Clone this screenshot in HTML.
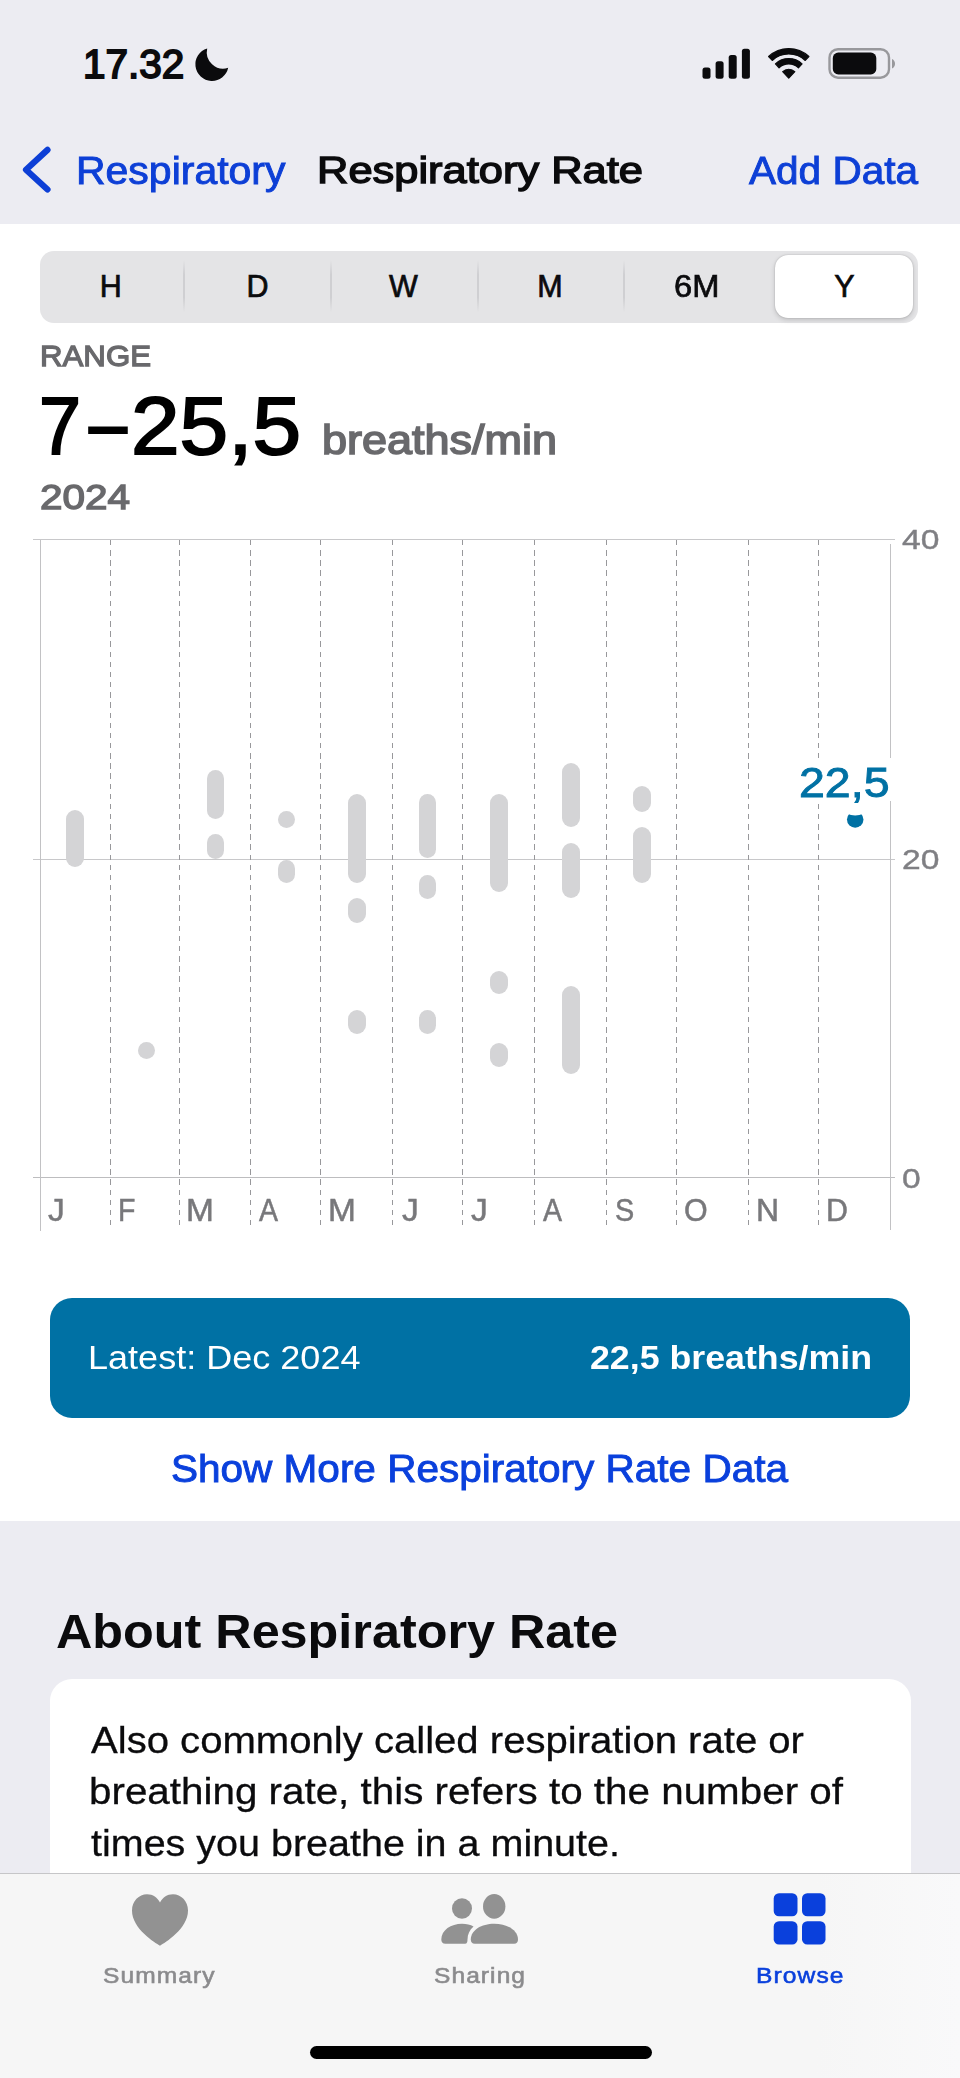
<!DOCTYPE html>
<html lang="en">
<head>
<meta charset="utf-8">
<title>Respiratory Rate</title>
<style>
html,body{margin:0;padding:0;}
body{width:960px;height:2078px;position:relative;overflow:hidden;background:#ececf2;font-family:"Liberation Sans",sans-serif;color:#000;}
.abs{position:absolute;}
.t{position:absolute;white-space:nowrap;line-height:1;transform-origin:0 0;}
#white{position:absolute;left:0;top:223.5px;width:960px;height:1297px;background:#fff;}
#gray{position:absolute;left:0;top:1520.5px;width:960px;height:558px;background:#ececf2;}
#seg{position:absolute;left:40px;top:250.5px;width:878px;height:72px;border-radius:14px;background:#e4e4e6;}
#segsel{position:absolute;left:774.6px;top:254.8px;width:138.8px;height:63.5px;border-radius:13px;background:#fff;box-shadow:0 2px 5px rgba(0,0,0,.16),0 0 1.5px rgba(0,0,0,.25);}
.sep{position:absolute;top:260px;width:2px;height:52px;background:linear-gradient(to bottom,rgba(205,205,208,0),#cfcfd2 28%,#cfcfd2 72%,rgba(205,205,208,0));}
.vl{position:absolute;top:540px;height:690px;width:1px;background:repeating-linear-gradient(to bottom,#98989b 0,#98989b 5.4px,transparent 5.4px,transparent 10.15px);}
.vs{position:absolute;width:1px;background:#c2c2c4;}
.hl{position:absolute;left:33px;width:862px;height:1px;background:#c8c8ca;}
.bar{position:absolute;width:17.5px;border-radius:9px;background:#d4d4d6;filter:blur(.7px);}
#latest{position:absolute;left:49.5px;top:1297.5px;width:860.5px;height:120px;border-radius:22px;background:#0071a4;}
#card{position:absolute;left:50px;top:1678.5px;width:860.5px;height:260px;border-radius:22px;background:#fff;}
#tab{position:absolute;left:0;top:1872.5px;width:960px;height:206px;background:linear-gradient(to right,#f6f6f6 0,#f6f6f6 85%,#f9f9fa 100%);border-top:1.5px solid #c6c6c8;}
#home{position:absolute;left:309.5px;top:2045.5px;width:342px;height:13px;border-radius:7px;background:#000;}
</style>
</head>
<body>
<div id="white"></div>
<div id="gray"></div>

<div class="t" id="time" style="left:83px;top:44.42px;font-size:40.5px;color:#0b0b0d;-webkit-text-stroke:1.8px #0b0b0d;">17.32</div>
<svg class="abs" id="moon" style="left:192px;top:46px" width="40" height="38" viewBox="0 0 40 38"><path d="M15.2 2.4 A16.6 16.6 0 1 0 36.2 21.8 A16.5 16.5 0 0 1 15.2 2.4 Z" fill="#0b0b0d"/></svg>
<svg class="abs" id="signal" style="left:700px;top:46px" width="54" height="36" viewBox="0 0 54 36"><rect x="2.5" y="21.5" width="8" height="11.3" rx="2.5" fill="#0b0b0d"/><rect x="15.6" y="15.2" width="8" height="17.6" rx="2.5" fill="#0b0b0d"/><rect x="28.7" y="9" width="8" height="23.8" rx="2.5" fill="#0b0b0d"/><rect x="41.9" y="2.7" width="8" height="30.1" rx="2.5" fill="#0b0b0d"/></svg>
<svg class="abs" id="wifi" style="left:766px;top:46px" width="46" height="36" viewBox="0 0 46 36"><g fill="#0b0b0d" stroke="#0b0b0d" stroke-width="1.2" stroke-linejoin="round"><path d="M6.25 14.45 L2.6 10.54 A29.55 29.55 0 0 1 42.9 10.54 L39.25 14.45 A24.2 24.2 0 0 0 6.25 14.45 Z"/><path d="M13.07 21.76 L9.42 17.85 A19.55 19.55 0 0 1 36.08 17.85 L32.43 21.76 A14.2 14.2 0 0 0 13.07 21.76 Z"/><path d="M22.75 32.15 L16.68 25.64 A8.9 8.9 0 0 1 28.82 25.64 Z"/></g></svg>
<svg class="abs" id="batt" style="left:826px;top:46px" width="72" height="36" viewBox="0 0 72 36"><rect x="3.5" y="3.2" width="59.5" height="28.5" rx="8.5" fill="none" stroke="#98989c" stroke-width="2.4"/><rect x="6.8" y="6.6" width="43.5" height="21.8" rx="5.5" fill="#0b0b0d"/><path d="M66 13 C70 14.5 70 21 66 22.5 Z" fill="#98989c"/></svg>
<svg class="abs" id="chev" style="left:18px;top:140px" width="40" height="60" viewBox="0 0 40 60"><path d="M29.5 9.9 L8 29.7 L29.5 49.5" fill="none" stroke="#0d3fd6" stroke-width="6.2" stroke-linecap="round" stroke-linejoin="round"/></svg>
<div class="t" id="back" style="left:75.5px;top:152.13px;font-size:38px;color:#0d3fd6;-webkit-text-stroke:0.9px #0d3fd6;transform:scaleX(1.0782);">Respiratory</div>
<div class="t" id="title" style="left:317px;top:151.76px;font-size:37.5px;color:#0b0b0d;-webkit-text-stroke:1.4px #0b0b0d;transform:scaleX(1.1586);">Respiratory Rate</div>
<div class="t" id="add" style="left:748.5px;top:152.13px;font-size:38px;color:#0d3fd6;-webkit-text-stroke:0.9px #0d3fd6;transform:scaleX(1.0666);">Add Data</div>
<div id="seg"></div>
<div class="sep" style="left:183px"></div>
<div class="sep" style="left:330px"></div>
<div class="sep" style="left:476.5px"></div>
<div class="sep" style="left:623px"></div>
<div id="segsel"></div>
<div class="t" id="sg0" style="left:99.78px;top:271.08px;font-size:30.5px;color:#0b0b0d;-webkit-text-stroke:0.7px #0b0b0d;">H</div>
<div class="t" id="sg1" style="left:246.48px;top:271.08px;font-size:30.5px;color:#0b0b0d;-webkit-text-stroke:0.7px #0b0b0d;">D</div>
<div class="t" id="sg2" style="left:389.1px;top:271.08px;font-size:30.5px;color:#0b0b0d;-webkit-text-stroke:0.7px #0b0b0d;">W</div>
<div class="t" id="sg3" style="left:537.29px;top:271.08px;font-size:30.5px;color:#0b0b0d;-webkit-text-stroke:0.7px #0b0b0d;">M</div>
<div class="t" id="sg4" style="left:673.83px;top:271.08px;font-size:30.5px;color:#0b0b0d;-webkit-text-stroke:0.7px #0b0b0d;transform:scaleX(1.07);">6M</div>
<div class="t" id="sg5" style="left:834.33px;top:271.08px;font-size:30.5px;color:#0b0b0d;-webkit-text-stroke:0.7px #0b0b0d;">Y</div>
<div class="t" id="range" style="left:39.5px;top:341.05px;font-size:30.3px;color:#69696c;-webkit-text-stroke:1.3px #69696c;transform:scaleX(1.0302);">RANGE</div>
<div id="big"><span class="t" id="big1" style="left:39px;top:385.01px;font-size:81.5px;color:#000;-webkit-text-stroke:2px #000;transform:scaleX(0.9266);">7</span><span class="t" id="big2" style="left:89px;top:382.01px;font-size:81.5px;color:#000;-webkit-text-stroke:2px #000;transform:scaleX(0.8383);">–</span><span class="t" id="big3" style="left:130.5px;top:385.01px;font-size:81.5px;color:#000;-webkit-text-stroke:2px #000;transform:scaleX(1.0717);">25,5</span></div>
<div class="t" id="unit" style="left:322px;top:419.37px;font-size:41.5px;color:#69696c;-webkit-text-stroke:1.6px #69696c;transform:scaleX(1.0838);">breaths/min</div>
<div class="t" id="year" style="left:40px;top:479.95px;font-size:35.5px;color:#69696c;-webkit-text-stroke:1.4px #69696c;transform:scaleX(1.1395);">2024</div>
<div id="chart">
<div class="hl" style="top:539px"></div>
<div class="hl" style="top:858.5px"></div>
<div class="hl" style="top:1177px;background:#bdbdbf"></div>
<div class="vs" style="left:39.5px;top:540px;height:691px"></div><div class="vs" style="left:890px;top:544px;height:686px"></div>
<div class="vl" style="left:110px"></div>
<div class="vl" style="left:179px"></div>
<div class="vl" style="left:250px"></div>
<div class="vl" style="left:320px"></div>
<div class="vl" style="left:392px"></div>
<div class="vl" style="left:462px"></div>
<div class="vl" style="left:534px"></div>
<div class="vl" style="left:606px"></div>
<div class="vl" style="left:676px"></div>
<div class="vl" style="left:748px"></div>
<div class="vl" style="left:818px"></div>
<div class="t" id="m47_5" style="left:47.5px;top:1195.06px;font-size:31px;color:#78787b;-webkit-text-stroke:0.5px #78787b;transform:scaleX(1.08);">J</div>
<div class="t" id="m118" style="left:118px;top:1195.06px;font-size:31px;color:#78787b;-webkit-text-stroke:0.5px #78787b;transform:scaleX(0.92);">F</div>
<div class="t" id="m185_5" style="left:185.5px;top:1195.06px;font-size:31px;color:#78787b;-webkit-text-stroke:0.5px #78787b;transform:scaleX(1.08);">M</div>
<div class="t" id="m259" style="left:259px;top:1195.06px;font-size:31px;color:#78787b;-webkit-text-stroke:0.5px #78787b;transform:scaleX(0.92);">A</div>
<div class="t" id="m327_5" style="left:327.5px;top:1195.06px;font-size:31px;color:#78787b;-webkit-text-stroke:0.5px #78787b;transform:scaleX(1.08);">M</div>
<div class="t" id="m401_5" style="left:401.5px;top:1195.06px;font-size:31px;color:#78787b;-webkit-text-stroke:0.5px #78787b;transform:scaleX(1.08);">J</div>
<div class="t" id="m471" style="left:471px;top:1195.06px;font-size:31px;color:#78787b;-webkit-text-stroke:0.5px #78787b;transform:scaleX(1.08);">J</div>
<div class="t" id="m543" style="left:543px;top:1195.06px;font-size:31px;color:#78787b;-webkit-text-stroke:0.5px #78787b;transform:scaleX(0.92);">A</div>
<div class="t" id="m614_5" style="left:614.5px;top:1195.06px;font-size:31px;color:#78787b;-webkit-text-stroke:0.5px #78787b;transform:scaleX(0.93);">S</div>
<div class="t" id="m683_5" style="left:683.5px;top:1195.06px;font-size:31px;color:#78787b;-webkit-text-stroke:0.5px #78787b;transform:scaleX(0.98);">O</div>
<div class="t" id="m755_5" style="left:755.5px;top:1195.06px;font-size:31px;color:#78787b;-webkit-text-stroke:0.5px #78787b;transform:scaleX(1.03);">N</div>
<div class="t" id="m825_5" style="left:825.5px;top:1195.06px;font-size:31px;color:#78787b;-webkit-text-stroke:0.5px #78787b;transform:scaleX(0.98);">D</div>
<div class="t" id="y40" style="left:901.5px;top:525.6px;font-size:28px;color:#7f7f83;-webkit-text-stroke:0.4px #7f7f83;transform:scaleX(1.2);">40</div>
<div class="t" id="y20" style="left:901.5px;top:846.2px;font-size:28px;color:#7f7f83;-webkit-text-stroke:0.4px #7f7f83;transform:scaleX(1.2);">20</div>
<div class="t" id="y0" style="left:901.5px;top:1164.8px;font-size:28px;color:#7f7f83;-webkit-text-stroke:0.4px #7f7f83;transform:scaleX(1.2);">0</div>
<div class="bar" style="left:66px;top:810.3px;height:56.9px"></div>
<div class="bar" style="left:137.5px;top:1041.5px;height:17px"></div>
<div class="bar" style="left:206.5px;top:770.3px;height:49.1px"></div>
<div class="bar" style="left:206.5px;top:834.4px;height:25px"></div>
<div class="bar" style="left:277.5px;top:811px;height:16.5px"></div>
<div class="bar" style="left:277.5px;top:860px;height:22.8px"></div>
<div class="bar" style="left:348px;top:794.3px;height:88.7px"></div>
<div class="bar" style="left:348px;top:898px;height:24.5px"></div>
<div class="bar" style="left:348px;top:1009.5px;height:24.5px"></div>
<div class="bar" style="left:418.6px;top:794.3px;height:63.7px"></div>
<div class="bar" style="left:418.6px;top:874.5px;height:24.5px"></div>
<div class="bar" style="left:418.6px;top:1009.5px;height:24.5px"></div>
<div class="bar" style="left:490px;top:794.3px;height:97.5px"></div>
<div class="bar" style="left:490px;top:970.5px;height:23.5px"></div>
<div class="bar" style="left:490px;top:1042.5px;height:24.5px"></div>
<div class="bar" style="left:562px;top:763px;height:64px"></div>
<div class="bar" style="left:562px;top:843px;height:55px"></div>
<div class="bar" style="left:562px;top:986.3px;height:88.1px"></div>
<div class="bar" style="left:633px;top:785.6px;height:26.4px"></div>
<div class="bar" style="left:633px;top:827px;height:56px"></div>
<div class="abs" id="valbg" style="left:792px;top:758px;width:103px;height:43px;background:#fff"></div>
<svg class="abs" id="dot" style="left:845px;top:806px" width="22" height="24" viewBox="0 0 22 24"><circle cx="10.2" cy="13.5" r="8.25" fill="#0071a4"/><ellipse cx="10.2" cy="3.5" rx="11" ry="6" fill="#fff"/></svg>
<div class="t" id="val" style="left:799px;top:762.15px;font-size:42px;color:#0071a4;-webkit-text-stroke:0.9px #0071a4;transform:scaleX(1.107);">22,5</div>
</div>
<div id="latest"></div>
<div class="t" id="lat1" style="left:88px;top:1342.23px;font-size:32.8px;color:#fff;transform:scaleX(1.0989);">Latest: Dec 2024</div>
<div class="t" id="lat2" style="left:589.5px;top:1342.23px;font-size:32.8px;color:#fff;font-weight:bold;transform:scaleX(1.0895);">22,5 breaths/min</div>
<div class="t" id="more" style="left:170.5px;top:1449.79px;font-size:38.4px;color:#0a40dc;-webkit-text-stroke:0.9px #0a40dc;transform:scaleX(1.0553);">Show More Respiratory Rate Data</div>
<div class="t" id="about" style="left:55.5px;top:1607.03px;font-size:48.4px;color:#0b0b0d;font-weight:bold;transform:scaleX(1.0399);">About Respiratory Rate</div>
<div id="card"></div>
<div class="t" id="p1" style="left:91px;top:1722.26px;font-size:37.5px;color:#0b0b0d;-webkit-text-stroke:0.3px #0b0b0d;transform:scaleX(1.069);">Also commonly called respiration rate or</div>
<div class="t" id="p2" style="left:89px;top:1773.46px;font-size:37.5px;color:#0b0b0d;-webkit-text-stroke:0.3px #0b0b0d;transform:scaleX(1.0765);">breathing rate, this refers to the number of</div>
<div class="t" id="p3" style="left:91px;top:1824.76px;font-size:37.5px;color:#0b0b0d;-webkit-text-stroke:0.3px #0b0b0d;transform:scaleX(1.053);">times you breathe in a minute.</div>
<div id="tab"></div>
<svg class="abs" id="heart" style="left:130px;top:1892px" width="60" height="56" viewBox="0 0 60 56"><path d="M30 53.8 C25 50.5 2 37 2 18.5 C2 9 9 2.2 17 2.2 C23 2.2 27.5 5.5 30 10.5 C32.5 5.5 37 2.2 43 2.2 C51 2.2 58 9 58 18.5 C58 37 35 50.5 30 53.8 Z" fill="#929292"/></svg>
<svg class="abs" id="share" style="left:438px;top:1890px" width="84" height="58" viewBox="0 0 84 58"><g fill="#929292"><ellipse cx="24" cy="18.5" rx="10" ry="10.2"/><path d="M3.3 49.5 C3.3 40 13 33.7 24 33.7 C28.5 33.7 32.5 34.7 35.5 36.5 C31.5 40 29.5 44.5 29.5 49.5 C29.5 52 29 53.7 27 53.7 L7.5 53.7 C4.5 53.7 3.3 52 3.3 49.5 Z"/><ellipse cx="56.2" cy="16.4" rx="11.2" ry="12.3"/><path d="M32.8 49.5 C32.8 40 43.5 33.7 56.2 33.7 C69 33.7 80 40 80 49.5 C80 52 78.8 53.7 76 53.7 L36.8 53.7 C34 53.7 32.8 52 32.8 49.5 Z"/></g></svg>
<svg class="abs" id="browse" style="left:772px;top:1892px" width="56" height="54" viewBox="0 0 56 54"><g fill="#0a40dc"><rect x="1.7" y="1.3" width="23.8" height="23" rx="5.3"/><rect x="30" y="1.3" width="23.5" height="23" rx="5.3"/><rect x="1.7" y="29.3" width="23.8" height="23.2" rx="5.3"/><rect x="30" y="29.3" width="23.5" height="23.2" rx="5.3"/></g></svg>
<div class="t" id="tl1" style="left:103.3px;top:1964px;font-size:22.8px;color:#8b8b8d;letter-spacing:1px;-webkit-text-stroke:0.6px #8b8b8d;transform:scaleX(1.0768);">Summary</div>
<div class="t" id="tl2" style="left:434.2px;top:1964px;font-size:22.8px;color:#8b8b8d;letter-spacing:1px;-webkit-text-stroke:0.6px #8b8b8d;transform:scaleX(1.0759);">Sharing</div>
<div class="t" id="tl3" style="left:756px;top:1964.2px;font-size:22.8px;color:#0a40dc;letter-spacing:1px;-webkit-text-stroke:0.55px #0a40dc;transform:scaleX(1.08);">Browse</div>
<div id="home"></div>
</body>
</html>
